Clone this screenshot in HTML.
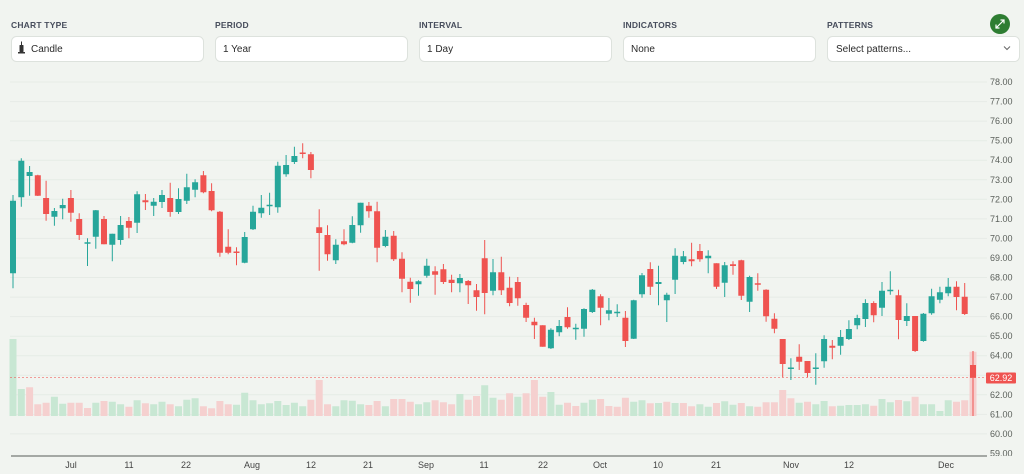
<!DOCTYPE html>
<html><head><meta charset="utf-8"><style>
html,body{margin:0;padding:0;background:#f1f4f0;}
body{width:1024px;height:474px;overflow:hidden;font-family:"Liberation Sans",Arial,sans-serif;}
svg{display:block}
</style></head><body>
<svg width="1024" height="474" viewBox="0 0 1024 474" xmlns="http://www.w3.org/2000/svg" font-family="Liberation Sans, Arial, sans-serif">
<rect width="1024" height="474" fill="#f1f4f0"/>
<!-- header -->
<g font-size="8.5" font-weight="bold" fill="#474d5c" letter-spacing="0.2">
<text x="11" y="28">CHART TYPE</text>
<text x="215" y="28">PERIOD</text>
<text x="419" y="28">INTERVAL</text>
<text x="623" y="28">INDICATORS</text>
<text x="827" y="28">PATTERNS</text>
</g>
<g fill="#ffffff" stroke="#dde2dd" stroke-width="1">
<rect x="11.5" y="36.5" width="192" height="25" rx="5"/>
<rect x="215.5" y="36.5" width="192" height="25" rx="5"/>
<rect x="419.5" y="36.5" width="192" height="25" rx="5"/>
<rect x="623.5" y="36.5" width="192" height="25" rx="5"/>
<rect x="827.5" y="36.5" width="192" height="25" rx="5"/>
</g>
<g font-size="10" fill="#2b2b2b">
<text x="31" y="52">Candle</text>
<text x="223" y="52">1 Year</text>
<text x="427" y="52">1 Day</text>
<text x="631" y="52">None</text>
<text x="836" y="52">Select patterns...</text>
</g>
<g fill="#333">
<rect x="21" y="41.5" width="1" height="12"/>
<rect x="19.5" y="45" width="4" height="7" rx="0.5"/>
<rect x="18" y="52" width="7" height="1.5"/>
</g>
<path d="M1004 46.5l3 3l3-3" fill="none" stroke="#666" stroke-width="1"/>
<circle cx="1000" cy="24" r="10" fill="#2e7d32"/>
<path d="M996 28l8-8M1000.5 20h3.5v3.5M999.5 28h-3.5v-3.5" fill="none" stroke="#fff" stroke-width="1.2"/>
<!-- grid -->
<g stroke="#e6ebe6" stroke-width="1">
<path d="M10 82H987M10 101.6H987M10 121.1H987M10 140.7H987M10 160.2H987M10 179.8H987M10 199.3H987M10 218.9H987M10 238.4H987M10 258H987M10 277.5H987M10 297.1H987M10 316.6H987M10 336.2H987M10 355.7H987M10 375.3H987M10 394.8H987M10 414.4H987M10 433.9H987"/>
</g>
<!-- volume -->
<path fill="none" stroke="#c8e7d3" stroke-width="7" d="M13 339V416M21.3 389V416M54.4 396.7V416M62.7 403.7V416M95.8 402.7V416M112.3 401.7V416M120.6 404.3V416M137.1 400.3V416M153.7 404.3V416M162 401.7V416M178.5 406.3V416M186.8 399.7V416M195.1 398.3V416M236.5 404.7V416M244.7 392.7V416M253 400.3V416M261.3 404.3V416M269.6 403.3V416M277.8 401V416M286.1 405V416M294.4 402.7V416M302.7 406.3V416M335.8 406.3V416M344 400.3V416M352.3 400.7V416M360.6 404.3V416M385.4 406.3V416M418.5 404.3V416M426.8 402.3V416M459.9 394V416M484.7 385.3V416M493 397.7V416M517.8 396.7V416M550.9 392V416M559.2 404.7V416M584 402.7V416M592.3 399.7V416M633.7 401.7V416M642 400.3V416M658.5 403V416M675.1 403V416M699.9 404.3V416M708.2 406.7V416M724.7 401.3V416M733 404.7V416M749.6 406.3V416M799.2 402.7V416M815.8 404.3V416M824.1 401V416M840.6 405.7V416M848.9 405V416M857.2 405V416M865.4 404.3V416M882 399V416M890.3 402.3V416M906.8 401.3V416M923.4 404.3V416M931.6 404.3V416M939.9 411V416M948.2 400.3V416"/>
<path fill="none" stroke="#f5d0cf" stroke-width="7" d="M29.6 387.3V416M37.8 404.3V416M46.1 402.7V416M70.9 402.7V416M79.2 402.7V416M87.5 408V416M104 401V416M128.9 406.7V416M145.4 403.3V416M170.2 404.3V416M203.4 406.3V416M211.6 408.3V416M219.9 401V416M228.2 404.3V416M310.9 399.7V416M319.2 380V416M327.5 404.3V416M368.9 405V416M377.1 401V416M393.7 399V416M402 399V416M410.3 401.7V416M435.1 400.3V416M443.4 402.3V416M451.6 404.3V416M468.2 399.7V416M476.5 396V416M501.3 399.7V416M509.6 393.3V416M526.1 393.3V416M534.4 380V416M542.7 396.7V416M567.5 402.7V416M575.8 406V416M600.6 399V416M608.9 406V416M617.2 406.7V416M625.4 397.7V416M650.3 403.3V416M666.8 401.7V416M683.4 403V416M691.6 406.3V416M716.5 403V416M741.3 403V416M757.8 406.7V416M766.1 402.3V416M774.4 402.3V416M782.7 390V416M790.9 398.3V416M807.5 401.7V416M832.3 406.3V416M873.7 405.7V416M898.5 400V416M915.1 396.7V416M956.5 401.7V416M964.7 400.3V416M973 351.7V416"/>
<!-- price line -->
<path d="M10 377.5H985" stroke="#ef5350" stroke-opacity="0.55" stroke-width="1" stroke-dasharray="2 2"/>
<!-- green candles -->
<path fill="none" stroke="#26a69a" stroke-width="1" d="M13 195V288.3M21.3 158.3V206.7M29.6 166V195.7M54.4 208V225.7M62.7 198.7V219.3M87.5 238.3V266M95.8 210V248.7M112.3 233.7V261.3M120.6 216V244.7M137.1 191.3V233M153.7 198V216M162 190V208M178.5 188.3V214M186.8 173.7V204M195.1 179.3V197.3M244.7 232V263.3M253 205.7V230M261.3 195V217.7M269.6 192.7V215M277.8 161.7V212.7M286.1 155V176.7M294.4 146.7V164M335.8 239.3V264M352.3 216.3V243.3M360.6 202.7V232.7M385.4 230V247.3M418.5 280.3V295.7M426.8 258.7V277.7M459.9 274V292.3M493 259V295.3M550.9 328.3V349M559.2 320V336.3M575.8 323.7V339.7M584 308.3V336.7M592.3 289V313M608.9 298V320.3M617.2 304.3V317M633.7 299.7V339M642 273V297.7M658.5 265.7V305.3M666.8 292.7V322M675.1 248.3V294M683.4 251V264.3M708.2 250.3V273.3M724.7 262V297M749.6 275.7V312M790.9 358.3V380M815.8 353.3V384.7M824.1 335.3V367.7M840.6 330V354.7M848.9 320.3V340M857.2 314.7V329.3M865.4 299.3V327M882 282V316M890.3 271.3V294.7M906.8 303.3V326M923.4 313V341.7M931.6 288.7V314.7M939.9 286.7V303.3M948.2 278V296.3"/>
<path fill="none" stroke="#26a69a" stroke-width="6" d="M13 200.7V273.3M21.3 160.7V197.3M29.6 172V176M54.4 211V216.7M62.7 205V208.3M87.5 242.3V243.7M95.8 210.3V236.7M112.3 233.7V244.7M120.6 225V240M137.1 194.3V222.7M153.7 201.7V205.7M162 195V202M178.5 199V212M186.8 187.3V200.7M195.1 182.3V189.7M244.7 237V262.7M253 211.7V229.3M261.3 207.7V213.3M269.6 204.8V206.3M277.8 165.7V207.3M286.1 165V174.3M294.4 156V162M335.8 244.7V260.3M352.3 225V242.7M360.6 202.7V225.3M385.4 236.7V246M418.5 281.3V284.3M426.8 265.7V275.7M459.9 278V283.3M493 272.3V290.7M550.9 329.7V348.3M559.2 326V332.3M575.8 327.7V329.3M584 309V328.7M592.3 289.7V312M608.9 310.3V313.7M617.2 311.7V313.2M633.7 300.3V338.7M642 275.3V294.3M658.5 282V284M666.8 294.7V300.3M675.1 255.7V279.7M683.4 256.3V262M708.2 255.7V258.3M724.7 265.3V282.7M749.6 277V301.7M790.9 367.5V369M815.8 367.5V369M824.1 339V361.3M840.6 337V345.7M848.9 329V339M857.2 318V325.3M865.4 303V319M882 290.7V307.7M890.3 289.7V291.3M906.8 316V321M923.4 313.7V341M931.6 296.3V313.3M939.9 292.3V299.7M948.2 286.7V293.3"/>
<!-- red candles -->
<path fill="none" stroke="#ef5350" stroke-width="1" d="M37.8 174.7V196M46.1 180.7V220.7M70.9 190V221.7M79.2 213.3V240M104 216V244.3M128.9 217V238.3M145.4 194V210M170.2 182.7V216.7M203.4 171V193.3M211.6 183.3V211.3M219.9 211V256.7M228.2 229.3V254.3M236.5 247.3V265.3M302.7 143.3V158.3M310.9 152V178.3M319.2 209.3V270.7M327.5 225.3V260.7M344 229.3V245.3M368.9 202V217.7M377.1 201.7V262.3M393.7 231V261M402 252.3V292.3M410.3 277.7V302.7M435.1 266.3V294.7M443.4 264V284M451.6 274.7V292.3M468.2 280V304M476.5 284V310.7M484.7 240V314.3M501.3 256.7V295M509.6 276.7V306.3M517.8 277V305.7M526.1 302.7V322M534.4 317.7V339M542.7 325.3V346.7M567.5 307.3V328.7M600.6 294.3V325.3M625.4 311V347M650.3 262.3V295M691.6 242.7V266.3M699.9 244V261.7M716.5 263.3V289M733 261.3V274.7M741.3 259.7V300M757.8 273.3V290.7M766.1 289.3V321.7M774.4 313.3V333.3M782.7 339V377.3M799.2 344.3V370M807.5 361V377.3M832.3 340V359.3M873.7 301.3V322.3M898.5 289.7V339.3M915.1 316V352M956.5 281.3V310.3M964.7 283V315M973 351V416"/>
<path fill="none" stroke="#ef5350" stroke-width="6" d="M37.8 175.3V195.7M46.1 198V214M70.9 198V212.7M79.2 219V235M104 219V244.3M128.9 221V227.7M145.4 200.3V202.3M170.2 198V212M203.4 175.3V192.3M211.6 191V210.3M219.9 211.7V252.7M228.2 246.7V252.7M236.5 251.5V253M302.7 152.5V154M310.9 154.3V170M319.2 227.3V233M327.5 235V254.3M344 241.3V244.3M368.9 205.7V211.3M377.1 211.3V247.7M393.7 235.7V259.3M402 258.7V278.7M410.3 281.7V289M435.1 271.3V274.7M443.4 269.3V282M451.6 279.7V283M468.2 281V285.3M476.5 290.3V297M484.7 258.3V293M501.3 272.3V290.3M509.6 287.7V303M517.8 282V298.3M526.1 305V317.7M534.4 321.7V325.3M542.7 325.3V346.7M567.5 317V327.3M600.6 296.3V307.7M625.4 317.7V341M650.3 269V286.7M691.6 259.3V261.3M699.9 251V259.3M716.5 263.3V286.7M733 264.3V266M741.3 260.3V295.7M757.8 283.3V284.8M766.1 289.7V316.3M774.4 318.7V328.7M782.7 339V364M799.2 356.7V361.7M807.5 361V373M832.3 345.7V347.7M873.7 303V315.3M898.5 295.3V320M915.1 316V351M956.5 286.7V297M964.7 296.7V314M973 365V377.7"/>
<!-- x axis -->
<path d="M11 456H987" stroke="#8a8e8a" stroke-width="1.5"/>
<g font-size="9" fill="#444" text-anchor="middle">
<text x="71" y="468">Jul</text>
<text x="129" y="468">11</text>
<text x="186" y="468">22</text>
<text x="252" y="468">Aug</text>
<text x="311" y="468">12</text>
<text x="368" y="468">21</text>
<text x="426" y="468">Sep</text>
<text x="484" y="468">11</text>
<text x="543" y="468">22</text>
<text x="600" y="468">Oct</text>
<text x="658" y="468">10</text>
<text x="716" y="468">21</text>
<text x="791" y="468">Nov</text>
<text x="849" y="468">12</text>
<text x="946" y="468">Dec</text>
</g>
<!-- y axis -->
<g font-size="9" fill="#5a5f5a">
<text x="990" y="85">78.00</text>
<text x="990" y="104.6">77.00</text>
<text x="990" y="124.1">76.00</text>
<text x="990" y="143.7">75.00</text>
<text x="990" y="163.2">74.00</text>
<text x="990" y="182.8">73.00</text>
<text x="990" y="202.3">72.00</text>
<text x="990" y="221.9">71.00</text>
<text x="990" y="241.4">70.00</text>
<text x="990" y="261">69.00</text>
<text x="990" y="280.5">68.00</text>
<text x="990" y="300.1">67.00</text>
<text x="990" y="319.6">66.00</text>
<text x="990" y="339.2">65.00</text>
<text x="990" y="358.7">64.00</text>
<text x="990" y="397.8">62.00</text>
<text x="990" y="417.4">61.00</text>
<text x="990" y="436.9">60.00</text>
</g>
<svg x="980" y="440" width="44" height="16" overflow="hidden"><text x="10" y="16.5" font-size="9" fill="#5a5f5a">59.00</text></svg>
<rect x="986" y="372.5" width="30" height="11" rx="1" fill="#ef5350"/>
<text x="1001" y="381.2" font-size="9" fill="#ffffff" text-anchor="middle">62.92</text>
</svg>
</body></html>
